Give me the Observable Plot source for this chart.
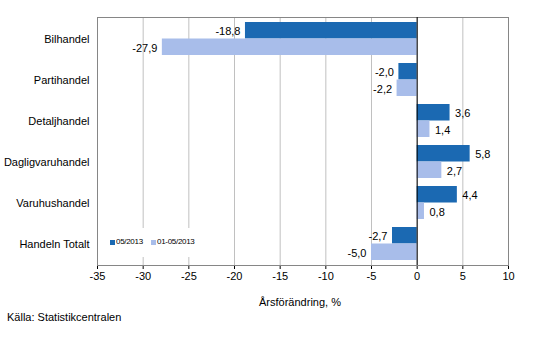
<!DOCTYPE html>
<html><head><meta charset="utf-8">
<script src="https://cdn.jsdelivr.net/npm/d3@7"></script>
<script src="https://cdn.jsdelivr.net/npm/@observablehq/plot@0.6"></script>
<style>
body{margin:0;background:#fff;font-family:Arial,"Liberation Sans",sans-serif;}
#wrap{position:relative;width:533px;height:359px;overflow:hidden;}
#chart svg{display:block;}
.xtitle{position:absolute;left:0;width:600px;top:295px;font-size:11px;line-height:14px;text-align:center;}
.caption{position:absolute;left:7px;top:310px;font-size:11px;line-height:14px;}
.legend{position:absolute;left:98px;top:228px;width:98px;height:29px;background:#fff;font-size:8px;white-space:nowrap;}
.legend span.sw{position:absolute;top:12px;width:5px;height:5px;}
.legend span.lb{position:absolute;top:9px;line-height:10px;letter-spacing:-0.3px;}
</style></head><body>
<div id="wrap"><div id="chart"></div>
<div class="xtitle">Årsförändring, %</div>
<div class="caption">Källa: Statistikcentralen</div>
<div class="legend" id="legend"></div>
</div>
<script>
const categories = ["Bilhandel","Partihandel","Detaljhandel","Dagligvaruhandel","Varuhushandel","Handeln Totalt"];
const seriesNames = ["05/2013","01-05/2013"];
const month = [-18.8,-2.0,3.6,5.8,4.4,-2.7];
const ytd = [-27.9,-2.2,1.4,2.7,0.8,-5.0];
const xTicks = [-35,-30,-25,-20,-15,-10,-5,0,5,10];
const colors = ["#1b69b2","#a8bdea"];

const fmt = v => v.toFixed(1).replace(".", ",");
const d1 = categories.map((c,i)=>({cat:c, v:month[i]}));
const d2 = categories.map((c,i)=>({cat:c, v:ytd[i]}));
const half = 16.5;
const off = 8.3;

function labels(data, dy){
  return [
    Plot.text(data.filter(d=>d.v<0),{x:"v",y:"cat",text:d=>fmt(d.v),textAnchor:"end",dx:-5,dy:dy}),
    Plot.text(data.filter(d=>d.v>=0),{x:"v",y:"cat",text:d=>fmt(d.v),textAnchor:"start",dx:5,dy:dy})
  ];
}

const chart = Plot.plot({
  width:533, height:283,
  marginTop:17, marginLeft:97, marginRight:25, marginBottom:18,
  style:{fontFamily:'Arial,"Liberation Sans",sans-serif', fontSize:"11px", color:"#000", background:"#fff"},
  x:{domain:[-35,10], ticks:xTicks, tickFormat:d=>String(d), label:null, tickSize:4, tickPadding:3, line:true},
  y:{domain:categories, paddingInner:0.2, paddingOuter:0.1, label:null, tickSize:0, tickPadding:8},
  marks:[
    Plot.ruleX(xTicks,{stroke:"#c0c0c0"}),
    Plot.frame({stroke:"#868686"}),
    Plot.barX(d1,{x:"v",y:"cat",fill:colors[0],insetBottom:half}),
    Plot.barX(d2,{x:"v",y:"cat",fill:colors[1],insetTop:half}),
    Plot.ruleX([0],{stroke:"#000"}),
    ...labels(d1,-off+1),
    ...labels(d2,off+1)
  ]
});
document.getElementById("chart").appendChild(chart);

const lg = document.getElementById("legend");
const pos = [[12,18],[53,59]];
seriesNames.forEach((n,i)=>{
  const s=document.createElement("span");s.className="sw";s.style.left=pos[i][0]+"px";s.style.background=colors[i];lg.appendChild(s);
  const t=document.createElement("span");t.className="lb";t.style.left=pos[i][1]+"px";t.textContent=n;lg.appendChild(t);
});
</script>
</body></html>
